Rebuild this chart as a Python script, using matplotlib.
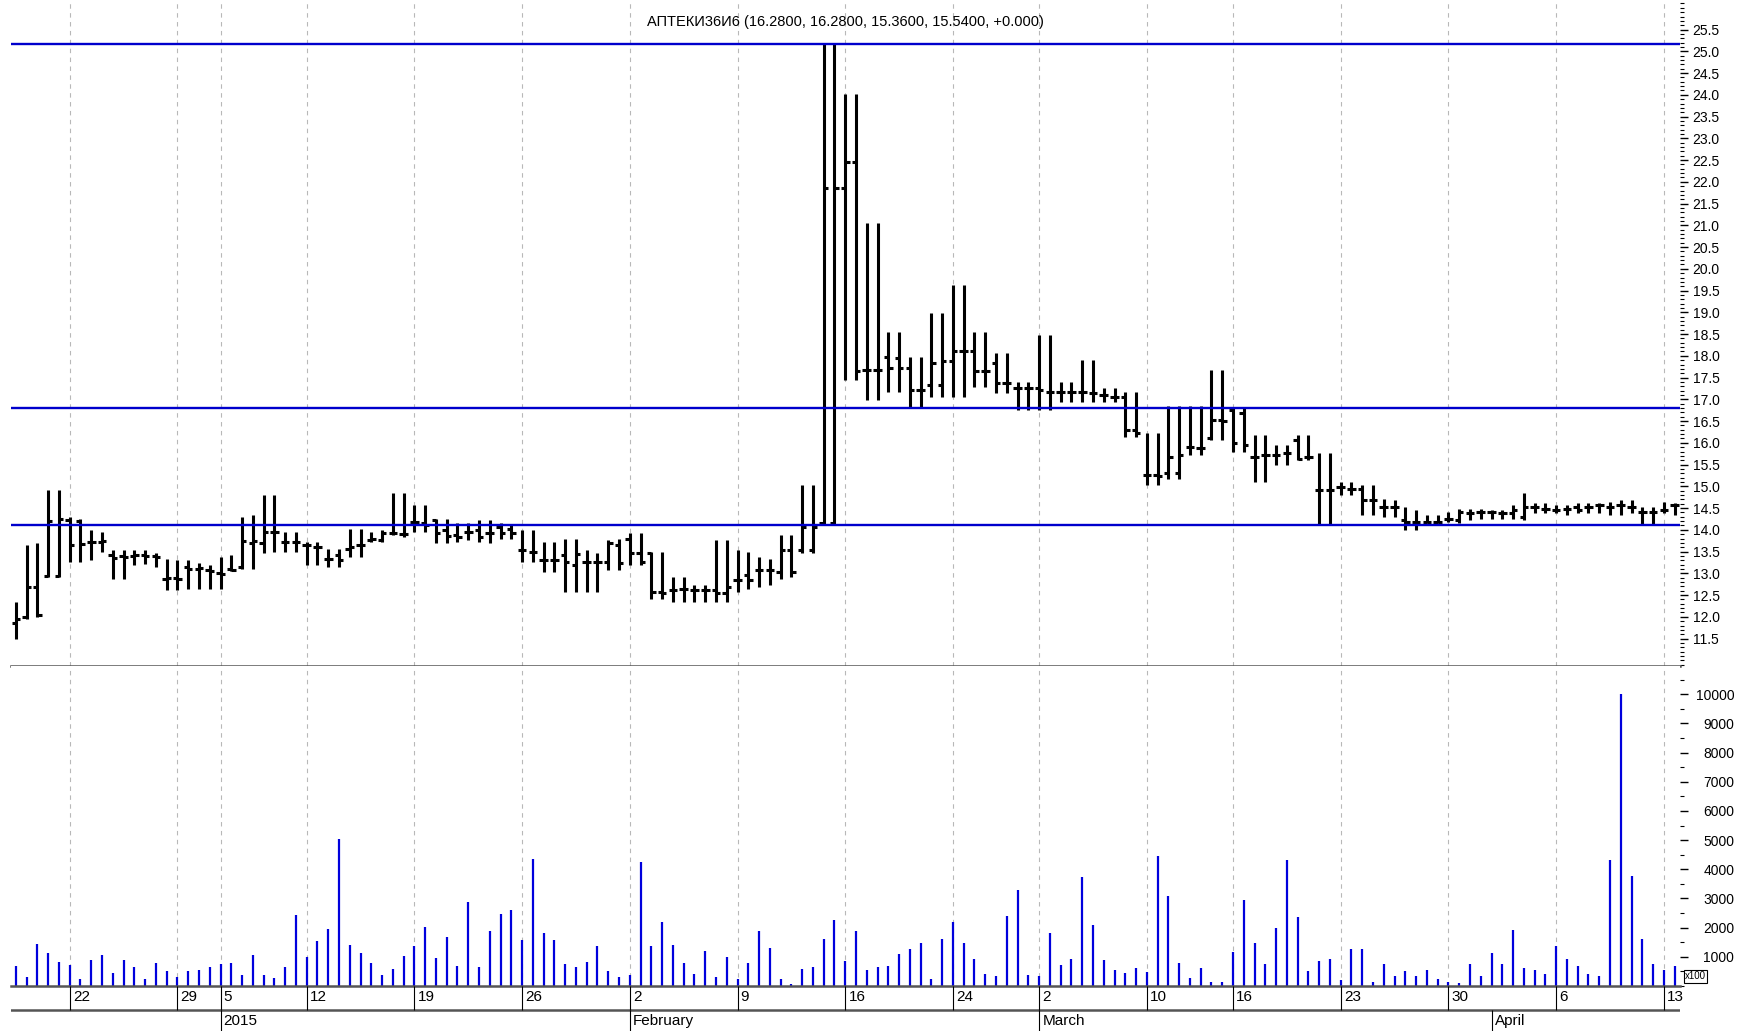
import numpy as np
import matplotlib
matplotlib.use("Agg")
import matplotlib.pyplot as plt
from matplotlib.ticker import MultipleLocator, FuncFormatter

plt.rcParams['font.family'] = ['Liberation Sans', 'DejaVu Sans']
NARROW = ['Liberation Sans Narrow', 'Liberation Sans', 'DejaVu Sans']

title = "АПТЕКИ36И6 (16.2800, 16.2800, 15.3600, 15.5400, +0.000)"

# half-day bars
opens = [11.85, 12.00, 12.69, 12.94, 12.94, 14.23, 14.20, 13.73, 13.73, 13.42,
         13.40, 13.40, 13.42, 13.40, 12.88, 12.90, 13.15, 13.10, 13.08, 13.00,
         13.10, 13.15, 13.70, 13.70, 13.95, 13.73, 13.73, 13.65, 13.61, 13.34,
         13.42, 13.57, 13.65, 13.77, 13.77, 13.92, 13.90, 14.19, 14.15, 14.23,
         14.00, 13.88, 13.96, 14.00, 13.92, 14.07, 14.03, 13.54, 13.50, 13.31,
         13.31, 13.42, 13.20, 13.27, 13.27, 13.27, 13.65, 13.80, 13.46, 13.46,
         12.58, 12.62, 12.65, 12.62, 12.62, 12.62, 12.54, 12.85, 12.96, 13.08,
         13.08, 13.04, 13.53, 13.53, 13.53, 14.15, 14.15, 21.85, 22.46, 17.67,
         17.67, 17.98, 17.95, 17.71, 17.21, 17.33, 17.33, 17.87, 18.10, 18.10,
         17.64, 17.83, 17.37, 17.25, 17.25, 17.25, 17.18, 17.18, 17.16, 17.18,
         17.14, 17.10, 17.06, 17.06, 16.29, 15.26, 15.26, 15.30, 15.30, 15.91,
         15.88, 16.10, 16.52, 16.75, 16.68, 15.68, 15.72, 15.72, 15.76, 16.06,
         15.68, 14.91, 14.91, 14.99, 14.95, 14.95, 14.68, 14.53, 14.53, 14.23,
         14.19, 14.19, 14.19, 14.26, 14.23, 14.38, 14.42, 14.42, 14.38, 14.38,
         14.30, 14.53, 14.49, 14.46, 14.49, 14.53, 14.53, 14.57, 14.53, 14.57,
         14.53, 14.42, 14.42, 14.46, 14.57]
highs = [12.35, 13.65, 13.70, 14.92, 14.92, 14.30, 14.26, 14.00, 13.96, 13.54,
         13.54, 13.54, 13.54, 13.46, 13.34, 13.30, 13.30, 13.23, 13.19, 13.38,
         13.42, 14.30, 14.33, 14.80, 14.80, 13.96, 13.96, 13.73, 13.73, 13.57,
         13.57, 14.03, 14.03, 13.96, 13.99, 14.84, 14.84, 14.57, 14.57, 14.26,
         14.26, 14.15, 14.15, 14.23, 14.23, 14.15, 14.11, 14.00, 14.00, 13.73,
         13.73, 13.80, 13.80, 13.53, 13.46, 13.77, 13.80, 13.92, 13.92, 13.50,
         13.50, 12.92, 12.92, 12.73, 12.73, 13.77, 13.77, 13.53, 13.50, 13.38,
         13.34, 13.88, 13.88, 15.03, 15.03, 25.17, 25.17, 24.03, 24.03, 21.05,
         21.05, 18.55, 18.55, 17.98, 17.98, 18.99, 18.99, 19.63, 19.63, 18.55,
         18.55, 18.06, 18.06, 17.41, 17.41, 18.48, 18.48, 17.41, 17.41, 17.90,
         17.90, 17.25, 17.25, 17.17, 17.17, 16.22, 16.22, 16.85, 16.85, 16.85,
         16.85, 17.67, 17.67, 16.79, 16.79, 16.18, 16.18, 15.95, 15.95, 16.18,
         16.18, 15.76, 15.76, 15.10, 15.10, 15.03, 15.03, 14.70, 14.68, 14.53,
         14.46, 14.34, 14.34, 14.42, 14.49, 14.49, 14.49, 14.46, 14.46, 14.57,
         14.84, 14.61, 14.61, 14.57, 14.57, 14.61, 14.61, 14.61, 14.65, 14.69,
         14.69, 14.53, 14.53, 14.65, 14.61]
lows = [11.50, 11.96, 12.00, 12.92, 12.92, 13.27, 13.27, 13.30, 13.50, 12.88,
        12.88, 13.19, 13.22, 13.15, 12.62, 12.62, 12.65, 12.65, 12.65, 12.65,
        13.05, 13.11, 13.11, 13.46, 13.50, 13.50, 13.50, 13.19, 13.19, 13.15,
        13.15, 13.38, 13.38, 13.73, 13.73, 13.88, 13.84, 13.96, 13.96, 13.69,
        13.69, 13.73, 13.77, 13.73, 13.69, 13.80, 13.80, 13.27, 13.27, 13.04,
        13.04, 12.58, 12.58, 12.58, 12.58, 13.08, 13.08, 13.19, 13.19, 12.42,
        12.42, 12.35, 12.35, 12.35, 12.35, 12.35, 12.35, 12.58, 12.65, 12.69,
        12.73, 12.88, 12.92, 13.46, 13.46, 14.10, 14.10, 17.44, 17.44, 16.98,
        16.98, 17.18, 17.18, 16.80, 16.80, 17.06, 17.06, 17.06, 17.06, 17.29,
        17.29, 17.14, 17.14, 16.75, 16.75, 16.75, 16.75, 16.95, 16.95, 16.95,
        16.95, 16.95, 16.95, 16.14, 16.14, 15.03, 15.03, 15.18, 15.18, 15.72,
        15.72, 16.06, 16.06, 15.80, 15.80, 15.10, 15.10, 15.49, 15.49, 15.60,
        15.60, 14.11, 14.11, 14.80, 14.80, 14.34, 14.34, 14.30, 14.30, 14.00,
        14.00, 14.15, 14.15, 14.19, 14.15, 14.23, 14.26, 14.26, 14.26, 14.26,
        14.23, 14.38, 14.38, 14.38, 14.34, 14.38, 14.38, 14.38, 14.34, 14.34,
        14.38, 14.11, 14.11, 14.38, 14.34]
closes = [11.96, 12.69, 12.05, 14.20, 14.25, 13.65, 13.68, 13.73, 13.75, 13.35,
          13.38, 13.42, 13.40, 13.38, 12.90, 12.88, 13.10, 13.12, 13.05, 12.98,
          13.08, 13.75, 13.75, 13.95, 13.95, 13.73, 13.73, 13.65, 13.61, 13.34,
          13.30, 13.61, 13.65, 13.80, 13.92, 13.92, 13.90, 14.19, 14.10, 13.92,
          13.85, 13.84, 13.96, 13.84, 13.92, 13.92, 13.92, 13.54, 13.50, 13.31,
          13.31, 13.27, 13.45, 13.27, 13.27, 13.69, 13.23, 13.46, 13.27, 12.58,
          12.54, 12.62, 12.65, 12.62, 12.62, 12.54, 12.69, 12.85, 12.85, 13.08,
          13.08, 13.53, 13.04, 14.07, 14.07, 21.85, 21.85, 22.46, 17.65, 17.67,
          17.67, 17.71, 17.71, 17.21, 17.21, 17.83, 17.87, 18.10, 18.10, 17.64,
          17.64, 17.37, 17.37, 17.25, 17.25, 17.21, 17.18, 17.18, 17.16, 17.18,
          17.14, 17.10, 17.06, 16.29, 16.22, 15.26, 15.23, 15.68, 15.72, 15.91,
          15.88, 16.52, 16.50, 15.99, 15.95, 15.68, 15.72, 15.72, 15.76, 15.64,
          15.68, 14.91, 14.91, 14.99, 14.95, 14.68, 14.68, 14.53, 14.53, 14.19,
          14.19, 14.19, 14.19, 14.26, 14.42, 14.38, 14.42, 14.42, 14.38, 14.46,
          14.53, 14.53, 14.49, 14.46, 14.49, 14.46, 14.53, 14.57, 14.53, 14.57,
          14.53, 14.42, 14.42, 14.46, 14.57]
volumes = [690, 310, 1430, 1130, 830, 710, 250, 880, 1050, 460,
           890, 650, 250, 800, 510, 310, 510, 560, 650, 740,
           780, 370, 1050, 370, 270, 650, 2450, 1000, 1530, 1970,
           5050, 1410, 1140, 790, 390, 570, 1040, 1380, 2020, 960,
           1670, 690, 2880, 650, 1870, 2480, 2610, 1580, 4370, 1830,
           1570, 770, 650, 830, 1370, 500, 310, 370, 4250, 1370,
           2190, 1420, 790, 420, 1190, 310, 980, 250, 800, 1870,
           1300, 250, 70, 570, 650, 1620, 2250, 850, 1870, 560,
           650, 680, 1080, 1260, 1490, 250, 1600, 2200, 1490, 920,
           400, 340, 2400, 3300, 370, 340, 1800, 710, 940, 3730,
           2080, 880, 550, 460, 630, 480, 4470, 3100, 780, 290,
           630, 140, 140, 1170, 2960, 1490, 770, 2000, 4320, 2370,
           500, 840, 920, 200, 1280, 1280, 140, 740, 340, 500,
           340, 550, 230, 140, 110, 740, 340, 1130, 740, 1920,
           630, 550, 400, 1370, 920, 680, 400, 340, 4320, 10000,
           3780, 1600, 770, 550, 680]

levels = [25.17, 16.8, 14.1]

day_pos = [5, 15, 19, 27, 37, 47, 57, 67, 77, 87, 95, 105, 113, 123, 133, 143, 153]
day_labels = ["22", "29", "5", "12", "19", "26", "2", "9", "16", "24",
              "2", "10", "16", "23", "30", "6", "13"]
month_pos = [19, 57, 95, 137]
month_labels = ["2015", "February", "March", "April"]

W, H = 1750, 1031
fig = plt.figure(figsize=(W / 100, H / 100), dpi=100)
fig.patch.set_facecolor('white')
left = 11 / W
width = 1669 / W
ax1 = fig.add_axes([left, 1 - 666 / H, width, 666 / H])
ax2 = fig.add_axes([left, 1 - 986 / H, width, 320 / H], sharex=ax1)
ax3 = fig.add_axes([left, 0, width, 45 / H], sharex=ax1)

x = np.arange(len(opens))

# price panel
for p in day_pos:
    ax1.axvline(p, color='#b8b8b8', lw=0.8, ls=(0, (4, 4)), zorder=0)
ax1.vlines(x, lows, highs, color='black', lw=2.2, zorder=2)
ax1.hlines(opens, x - 0.4, x, color='black', lw=2.2, zorder=2)
ax1.hlines(closes, x, x + 0.4, color='black', lw=2.2, zorder=2)
for lv in levels:
    ax1.axhline(lv, color='#0000cc', lw=1.7, zorder=3)

ax1.set_xlim(-0.45, 154.5)
ax1.set_ylim(10.87, 26.18)
ax1.yaxis.tick_right()
ax1.set_yticks(np.arange(11.5, 25.51, 0.5))
ax1.yaxis.set_minor_locator(MultipleLocator(0.1))
ax1.yaxis.set_major_formatter(FuncFormatter(lambda v, pos: '%.1f' % v))
ax1.tick_params(axis='y', which='major', length=6, width=1, pad=3, labelsize=10)
ax1.tick_params(axis='y', which='minor', length=3, width=0.8)
ax1.tick_params(axis='x', which='both', bottom=False, labelbottom=False)
for s in ['top', 'left', 'right']:
    ax1.spines[s].set_visible(False)
ax1.spines['bottom'].set_color('#555555')
ax1.spines['bottom'].set_linewidth(1.8)
ax1.text(0.5, 0.967, title, transform=ax1.transAxes, ha='center', va='center',
         fontsize=10.5, family=NARROW)

# volume panel
for p in day_pos:
    ax2.axvline(p, color='#b8b8b8', lw=0.8, ls=(0, (4, 4)), zorder=0)
ax2.vlines(x, 0, volumes, color='#0000dd', lw=1.6, zorder=2)
ax2.set_ylim(0, 10970)
ax2.yaxis.tick_right()
ax2.set_yticks(np.arange(1000, 10001, 1000))
ax2.yaxis.set_minor_locator(MultipleLocator(500))
ax2.tick_params(axis='y', which='major', length=6, width=1, pad=33, labelsize=10)
ax2.tick_params(axis='y', which='minor', length=3, width=0.8)
for lbl in ax2.get_yticklabels():
    lbl.set_horizontalalignment('right')
ax2.tick_params(axis='x', which='both', bottom=False, labelbottom=False)
for s in ['top', 'left', 'right']:
    ax2.spines[s].set_visible(False)
ax2.spines['bottom'].set_color('#555555')
ax2.spines['bottom'].set_linewidth(1.8)
ax2.text(1.003, 0.015, 'x100', transform=ax2.transAxes, ha='left', va='bottom',
         fontsize=7, bbox=dict(boxstyle='square,pad=0.15', fc='white', ec='black', lw=0.8))

# date strip
ax3.set_ylim(0, 1)
ax3.axis('off')
ax3.axhline(0.47, color='#555555', lw=1.8)
ax3.vlines(day_pos, 0.47, 1, color='black', lw=0.8)
for p, s in zip(day_pos, day_labels):
    ax3.text(p + 0.3, 0.75, s, ha='left', va='center', fontsize=11, family=NARROW)
ax3.vlines(month_pos, 0, 0.47, color='black', lw=0.8)
for p, s in zip(month_pos, month_labels):
    ax3.text(p + 0.3, 0.22, s, ha='left', va='center', fontsize=11, family=NARROW)

fig.savefig('out.png', dpi=100)
